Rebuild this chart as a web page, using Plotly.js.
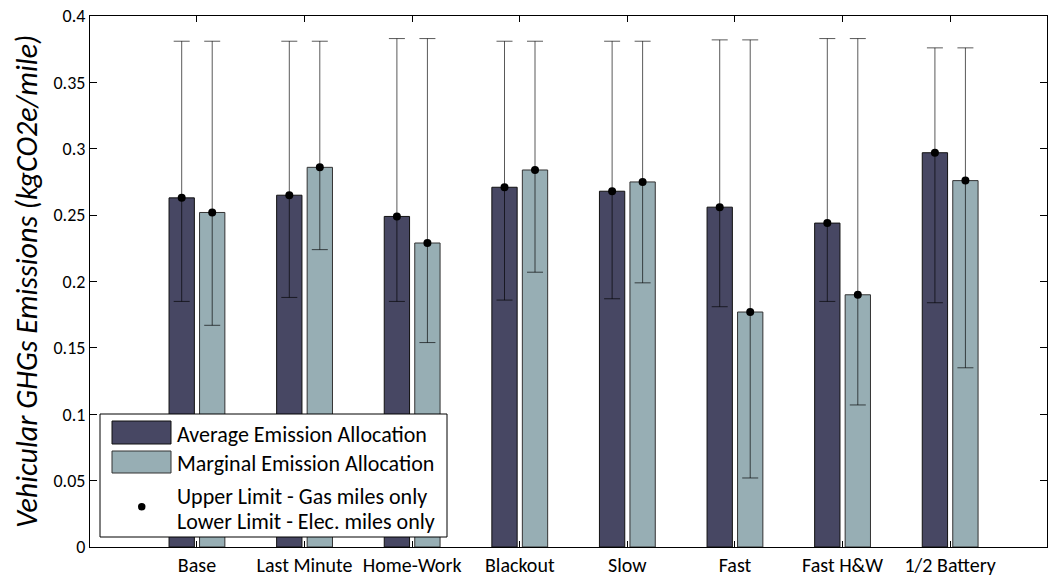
<!DOCTYPE html>
<html>
<head>
<meta charset="utf-8">
<script src="https://cdn.plot.ly/plotly-3.0.1.min.js"></script>
<style>
  html, body { margin: 0; padding: 0; background: #fff; }
  #chart { width: 1050px; height: 576px; }
</style>
</head>
<body>
<div id="chart"></div>
<script>
// Charging scenarios and per-mile vehicular GHG emissions (kgCO2e/mile)
const scenarios = ['Base', 'Last Minute', 'Home-Work', 'Blackout', 'Slow', 'Fast', 'Fast H&W', '1/2 Battery'];

const averageAlloc  = [0.263, 0.265, 0.249, 0.271, 0.268, 0.256, 0.244, 0.297];
const averageUpper  = [0.381, 0.381, 0.383, 0.381, 0.381, 0.382, 0.383, 0.376];
const averageLower  = [0.185, 0.188, 0.185, 0.186, 0.187, 0.181, 0.185, 0.184];

const marginalAlloc = [0.252, 0.286, 0.229, 0.284, 0.275, 0.177, 0.190, 0.276];
const marginalUpper = [0.381, 0.381, 0.383, 0.381, 0.381, 0.382, 0.383, 0.376];
const marginalLower = [0.167, 0.224, 0.154, 0.207, 0.199, 0.052, 0.107, 0.135];

const yTicks = [0, 0.05, 0.1, 0.15, 0.2, 0.25, 0.3, 0.35, 0.4];

const legendLabels = [
  'Average Emission Allocation',
  'Marginal Emission Allocation',
  'Upper Limit - Gas miles only',
  'Lower Limit - Elec. miles only'
];

const FONT = 'Carlito, Calibri, Lato, sans-serif';
const AVG_COLOR = '#474763';
const MARG_COLOR = '#97aeb4';

function diff(a, b) { return a.map((v, i) => v - b[i]); }

function limitTrace(values, upper, lower, group) {
  return {
    type: 'scatter', mode: 'markers',
    x: scenarios, y: values, offsetgroup: group,
    marker: { color: '#000', size: 8 },
    error_y: {
      type: 'data', symmetric: false,
      array: diff(upper, values),
      arrayminus: diff(values, lower),
      color: 'rgba(0,0,0,0.65)', thickness: 1, width: 8
    },
    hoverinfo: 'skip', showlegend: false
  };
}

const traces = [
  { type: 'bar', x: scenarios, y: averageAlloc, offsetgroup: 'avg',
    marker: { color: AVG_COLOR, line: { color: '#111', width: 1 } }, showlegend: false },
  { type: 'bar', x: scenarios, y: marginalAlloc, offsetgroup: 'marg',
    marker: { color: MARG_COLOR, line: { color: '#333', width: 1 } }, showlegend: false },
  limitTrace(averageAlloc, averageUpper, averageLower, 'avg'),
  limitTrace(marginalAlloc, marginalUpper, marginalLower, 'marg')
];

// Plot area in page pixels, used to place the hand-drawn legend box
const M = { l: 90, r: 3, t: 16, b: 29 };
const W = 1050, H = 576;
const px = x => (x - M.l) / (W - M.l - M.r);
const py = y => (H - M.b - y) / (H - M.t - M.b);

const shapes = [
  { type: 'rect', xref: 'paper', yref: 'paper', layer: 'above',
    x0: px(100), x1: px(447), y0: py(537), y1: py(414),
    fillcolor: '#fff', line: { color: '#000', width: 1 } },
  { type: 'rect', xref: 'paper', yref: 'paper', layer: 'above',
    x0: px(112), x1: px(171), y0: py(444), y1: py(421),
    fillcolor: AVG_COLOR, line: { color: '#111', width: 1 } },
  { type: 'rect', xref: 'paper', yref: 'paper', layer: 'above',
    x0: px(112), x1: px(171), y0: py(473), y1: py(451),
    fillcolor: MARG_COLOR, line: { color: '#333', width: 1 } },
  { type: 'circle', xref: 'paper', yref: 'paper', layer: 'above',
    x0: px(138), x1: px(145.5), y0: py(510.5), y1: py(503),
    fillcolor: '#000', line: { color: '#000', width: 0 } }
];

const legendY = [434, 463, 496, 521];
const annotations = legendLabels.map((t, i) => ({
  xref: 'paper', yref: 'paper', x: px(175), y: py(legendY[i]),
  xanchor: 'left', yanchor: 'middle', showarrow: false, text: t,
  font: { family: FONT, size: 22, color: '#000' }
}));

const layout = {
  width: W, height: H,
  margin: M,
  paper_bgcolor: '#fff', plot_bgcolor: '#fff',
  barmode: 'group', scattermode: 'group',
  bargap: 0.433, bargroupgap: 0.17,
  font: { family: FONT, size: 18, color: '#000' },
  showlegend: false,
  xaxis: {
    type: 'category', range: [-0.994, 7.9],
    showline: true, linecolor: '#000', linewidth: 1, mirror: 'ticks',
    ticks: 'inside', ticklen: 6, tickcolor: '#000',
    showgrid: false, zeroline: false,
    tickfont: { family: FONT, size: 20, color: '#000' }
  },
  yaxis: {
    range: [0, 0.4], tickvals: yTicks, ticktext: yTicks.map(String),
    showline: true, linecolor: '#000', linewidth: 1, mirror: 'ticks',
    ticks: 'inside', ticklen: 7, tickcolor: '#000',
    showgrid: false, zeroline: false,
    tickfont: { family: FONT, size: 18, color: '#000' },
    title: { text: '<i>Vehicular GHGs Emissions (kgCO2e/mile)</i>', standoff: 6,
             font: { family: FONT, size: 30, color: '#000' } }
  },
  shapes: shapes,
  annotations: annotations
};

Plotly.newPlot('chart', traces, layout, { displayModeBar: false, staticPlot: true });
</script>
</body>
</html>
